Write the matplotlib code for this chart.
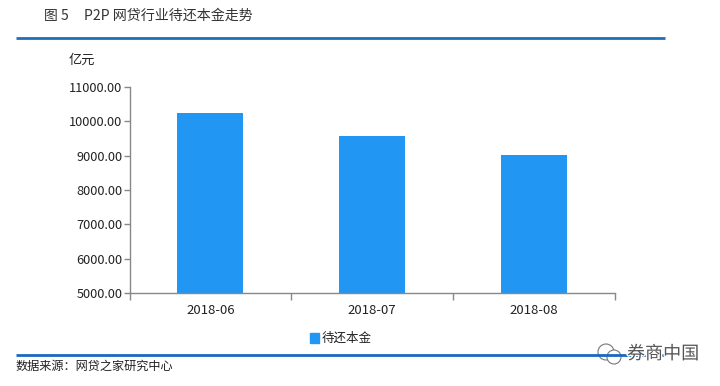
import matplotlib
matplotlib.use("Agg")
import matplotlib.pyplot as plt
from matplotlib.patches import Rectangle, Ellipse
from matplotlib.lines import Line2D
from matplotlib import patheffects as pe

plt.rcParams['font.family'] = ['Noto Sans CJK SC', 'DejaVu Sans']

categories = ['2018-06', '2018-07', '2018-08']
values = [10230, 9560, 9020]
yticks = [5000, 6000, 7000, 8000, 9000, 10000, 11000]
series_name = '待还本金'

W, H = 720, 386
fig = plt.figure(figsize=(W/100, H/100), dpi=100, facecolor='white')
ax = fig.add_axes([129.5/W, 1-293/H, (615-129.5)/W, (293-87)/H])
ax.bar(range(3), values, width=0.407, color='#2196F3')
ax.set_xlim(-0.5, 2.5)
ax.set_ylim(5000, 11000)
ax.set_yticks(yticks)
ax.set_yticklabels([f'{v:.2f}' for v in yticks], fontsize=9.2, color='#222222')
ax.set_xticks([-0.5, 0.5, 1.5, 2.5])
ax.set_xticklabels([])
ax.set_xticks(range(3), minor=True)
ax.set_xticklabels(categories, minor=True, fontsize=9.5, color='#222222')
ax.tick_params(axis='x', which='major', length=5, color='#888888', width=1)
ax.tick_params(axis='x', which='minor', length=0, pad=8)
ax.tick_params(axis='y', length=4, color='#888888', width=1, pad=1)
for s in ('top', 'right'):
    ax.spines[s].set_visible(False)
for s in ('left', 'bottom'):
    ax.spines[s].set_color('#888888')
    ax.spines[s].set_linewidth(1)

def T(x, y, s, **k):
    return fig.text(x/W, 1-y/H, s, va='center', **k)

T(44, 16, '图 5', fontsize=10, color='#333333')
T(84, 16, 'P2P 网贷行业待还本金走势', fontsize=10.1, color='#333333')
T(69, 60, '亿元', fontsize=9.5, color='#222222')
T(16, 366, '数据来源：网贷之家研究中心', fontsize=8.75, color='#222222')
T(322, 338, series_name, fontsize=9, color='#222222')
fig.add_artist(Rectangle((310/W, 1-343/H), 9/W, 10/H, transform=fig.transFigure, color='#2196F3'))

for y, c in ((38, '#1F6FB8'), (354.5, '#1769BE')):
    fig.add_artist(Line2D([16/W, 665/W], [1-y/H]*2, transform=fig.transFigure, color=c, lw=2, solid_capstyle='butt'))

wm = T(627, 354, '券商中国', fontsize=13, color='#555555')
wm.set_path_effects([pe.withStroke(linewidth=2, foreground='white')])
for cx, cy, r in ((606, 352, 8), (614, 357, 7)):
    fig.add_artist(Ellipse((cx/W, 1-cy/H), 2*r/W, 2*r/H, transform=fig.transFigure,
                   facecolor='white', edgecolor='#777777', lw=0.8))

fig.savefig('out.png', dpi=100)
